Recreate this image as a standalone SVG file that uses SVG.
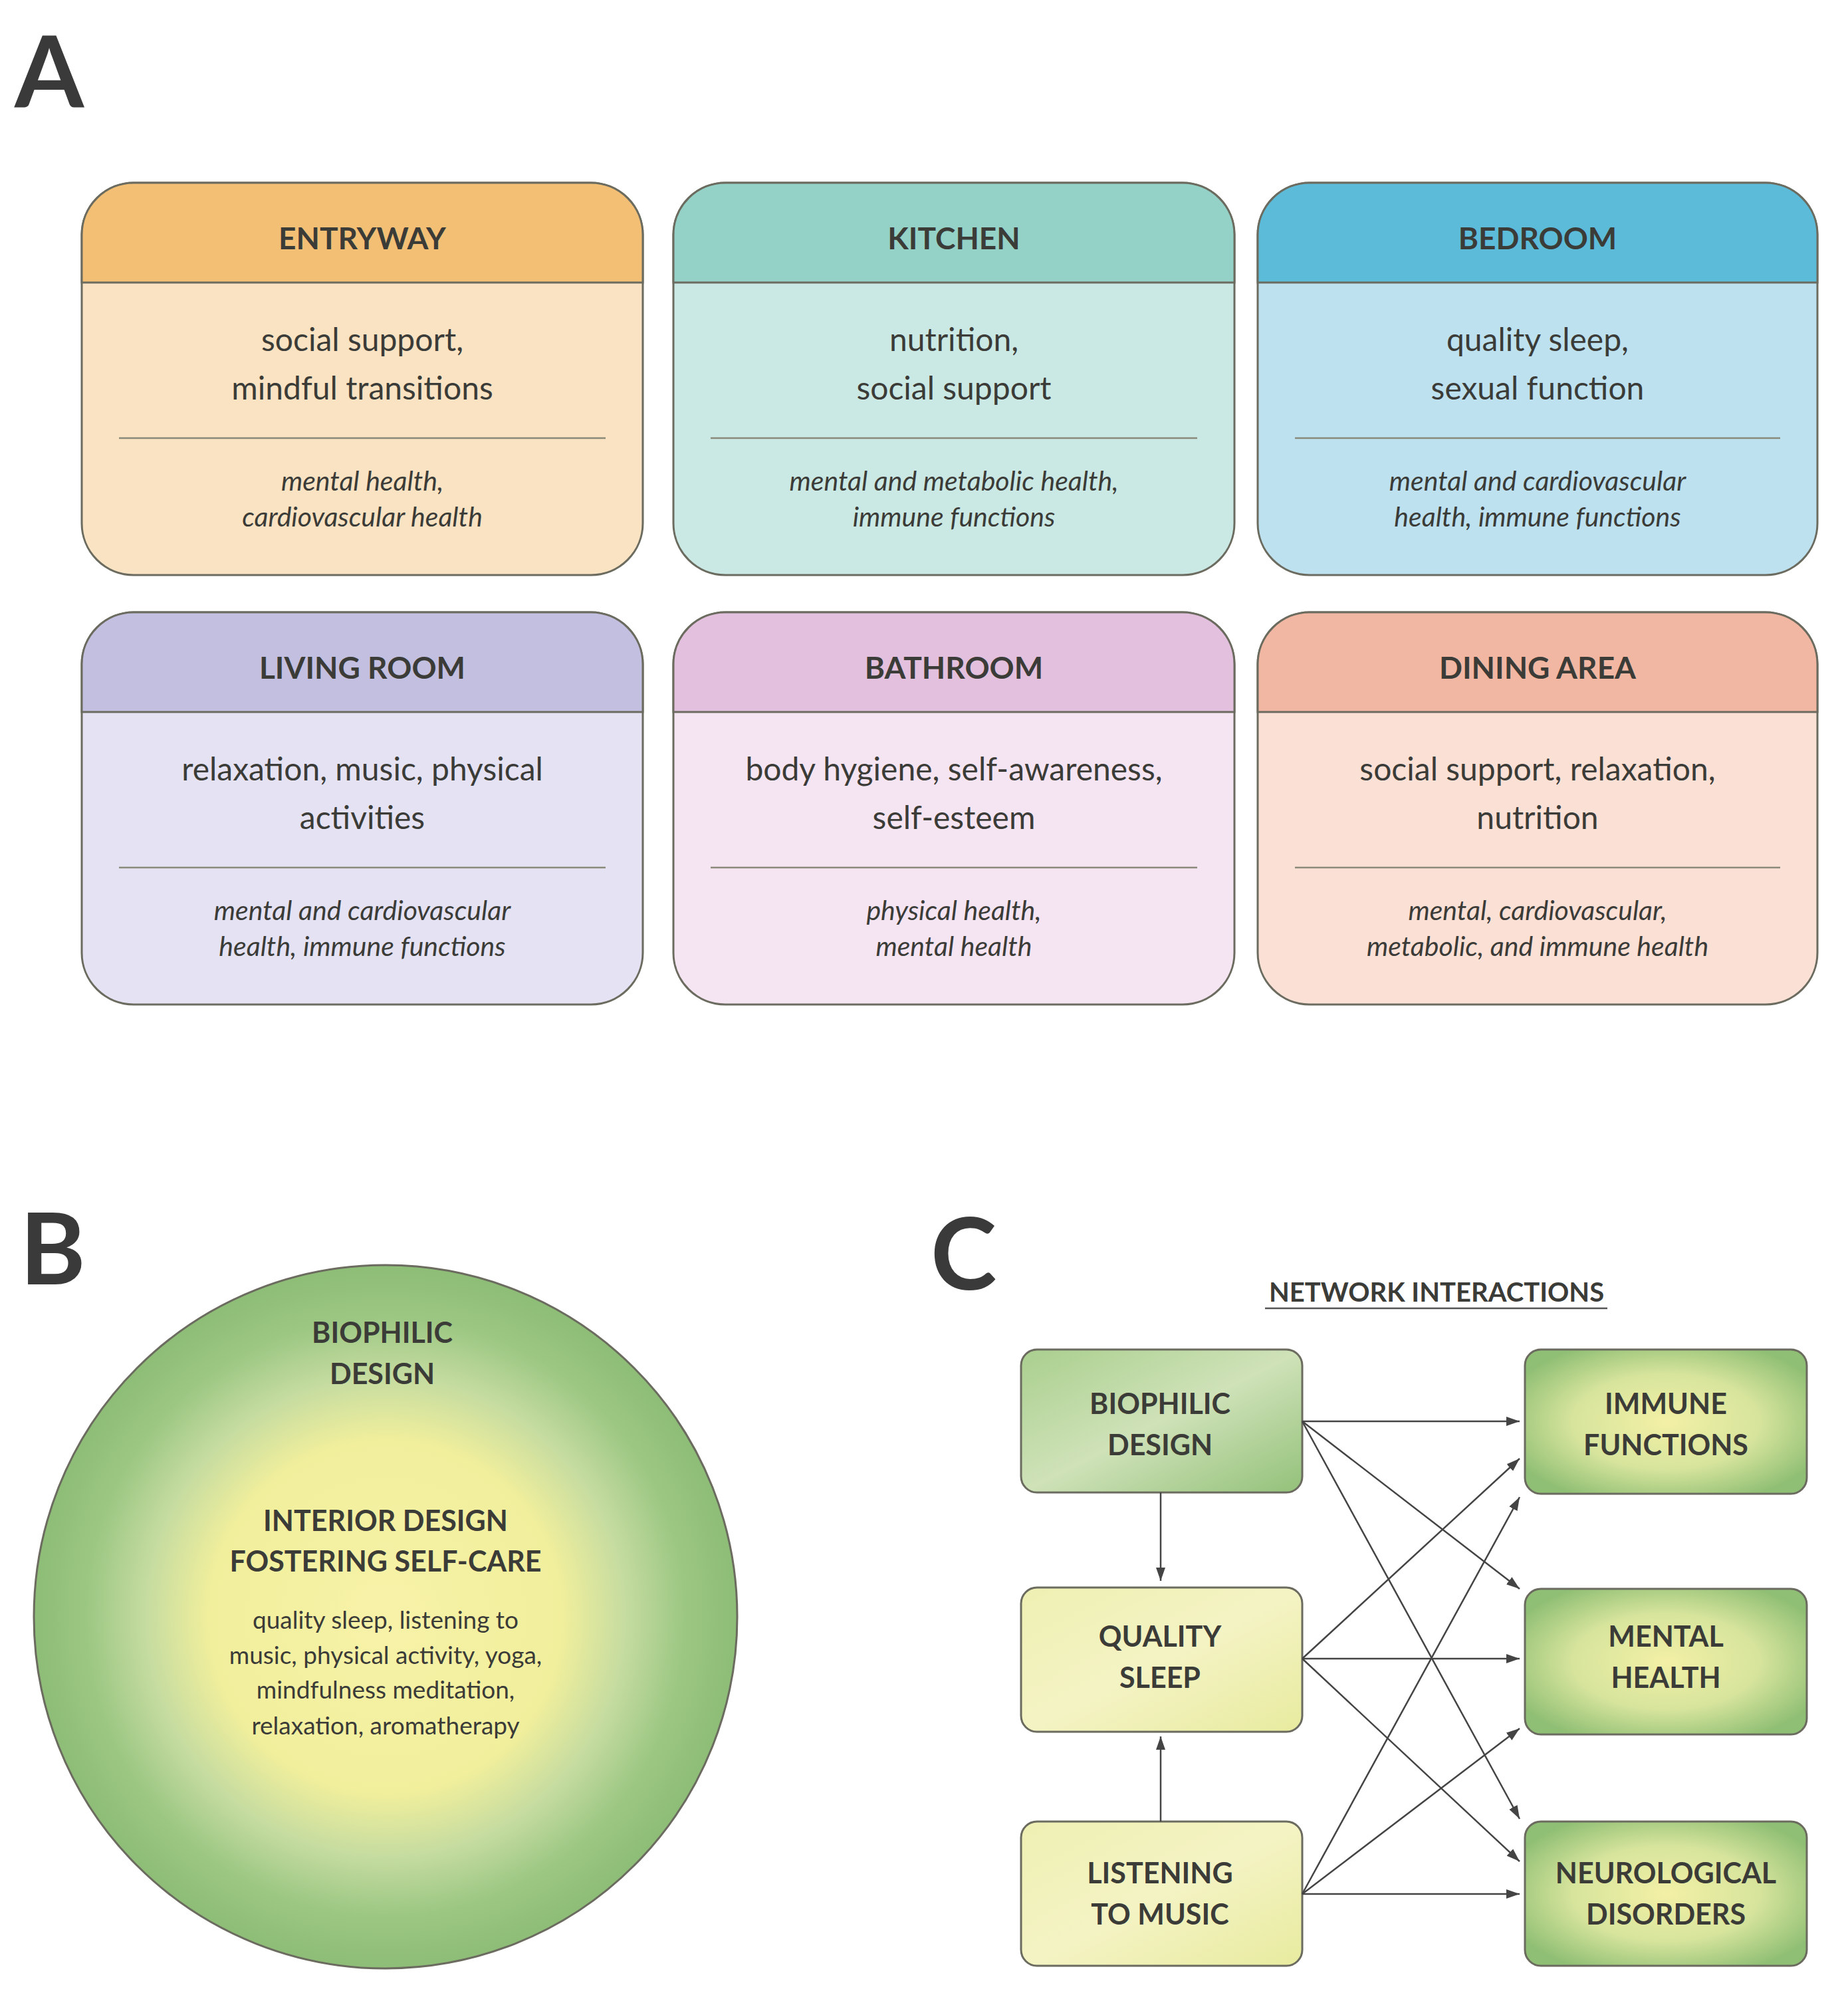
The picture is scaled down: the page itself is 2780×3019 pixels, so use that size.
<svg xmlns="http://www.w3.org/2000/svg" width="2780" height="3019" viewBox="0 0 2780 3019">
<defs>
<style>
text{font-family:Lato,"Open Sans","Liberation Sans",sans-serif;fill:#3b3b38;text-anchor:middle}
.big{font-size:150px;font-weight:bold;text-anchor:start;fill:#3a3a3a}
.hd{font-size:46px;font-weight:bold}
.bd{font-size:48px}
.it{font-size:41px;font-style:italic}
.c{font-size:43px;font-weight:bold}
.sm{font-size:37px}
.box{stroke:#6b6b5f;stroke-width:3}
.div{stroke:#8a8a7a;stroke-width:2.5}
.cn{stroke:#444;stroke-width:2.5;fill:none;marker-end:url(#ah)}
</style>
<marker id="ah" viewBox="0 0 10 10" refX="10" refY="5" markerWidth="7" markerHeight="7" orient="auto" markerUnits="userSpaceOnUse"><path d="M0,0 L10,5 L0,10 z" fill="#444" transform="scale(1)"/></marker>
<marker id="ah2" viewBox="0 0 10 10" refX="10" refY="5" markerWidth="20" markerHeight="20" orient="auto" markerUnits="userSpaceOnUse"><path d="M0,1.5 L10,5 L0,8.5 z" fill="#444"/></marker>
<radialGradient id="circ" cx="0.5" cy="0.5" r="0.5"><stop offset="0" stop-color="#f7f2a8"/><stop offset="0.5" stop-color="#f1ef9c"/><stop offset="0.68" stop-color="#c6dca0"/><stop offset="0.85" stop-color="#9cc783"/><stop offset="1" stop-color="#8dbd76"/></radialGradient>
<linearGradient id="gL" x1="0" y1="0" x2="1" y2="1"><stop offset="0" stop-color="#a9cf8e"/><stop offset="0.5" stop-color="#cfe2b8"/><stop offset="1" stop-color="#93c17a"/></linearGradient>
<linearGradient id="yL" x1="0" y1="0" x2="1" y2="1"><stop offset="0" stop-color="#eef0b2"/><stop offset="0.5" stop-color="#f4f3c4"/><stop offset="1" stop-color="#e7eb9e"/></linearGradient>
<radialGradient id="gR" cx="0.5" cy="0.5" r="0.6"><stop offset="0" stop-color="#f3f0a6"/><stop offset="0.55" stop-color="#d7e49c"/><stop offset="1" stop-color="#8fbf74"/></radialGradient>
</defs>

<text class="big" x="22" y="162">A</text>
<text class="big" x="30" y="1932">B</text>
<text class="big" x="1400" y="1940">C</text>

<g id="entryway"><rect class="box" x="123" y="275" width="844" height="590" rx="78" fill="#f9e3c2"/><path d="M123,425 V353 A78,78 0 0 1 201,275 H889 A78,78 0 0 1 967,353 V425 Z" fill="#f2bf75" class="box"/>
<text class="hd" x="545" y="375">ENTRYWAY</text><text class="bd" x="545" y="528">social support,</text><text class="bd" x="545" y="601">mindful transitions</text><line class="div" x1="179" y1="659" x2="911" y2="659"/><text class="it" x="545" y="738">mental health,</text><text class="it" x="545" y="792">cardiovascular health</text></g>

<g id="kitchen"><rect class="box" x="1013" y="275" width="844" height="590" rx="78" fill="#cbe9e4"/><path d="M1013,425 V353 A78,78 0 0 1 1091,275 H1779 A78,78 0 0 1 1857,353 V425 Z" fill="#94d1c7" class="box"/>
<text class="hd" x="1435" y="375">KITCHEN</text><text class="bd" x="1435" y="528">nutrition,</text><text class="bd" x="1435" y="601">social support</text><line class="div" x1="1069" y1="659" x2="1801" y2="659"/><text class="it" x="1435" y="738">mental and metabolic health,</text><text class="it" x="1435" y="792">immune functions</text></g>

<g id="bedroom"><rect class="box" x="1892" y="275" width="842" height="590" rx="78" fill="#bde1ef"/><path d="M1892,425 V353 A78,78 0 0 1 1970,275 H2656 A78,78 0 0 1 2734,353 V425 Z" fill="#5cbbd9" class="box"/>
<text class="hd" x="2313" y="375">BEDROOM</text><text class="bd" x="2313" y="528">quality sleep,</text><text class="bd" x="2313" y="601">sexual function</text><line class="div" x1="1948" y1="659" x2="2678" y2="659"/><text class="it" x="2313" y="738">mental and cardiovascular</text><text class="it" x="2313" y="792">health, immune functions</text></g>

<g id="living"><rect class="box" x="123" y="921" width="844" height="590" rx="78" fill="#e5e3f3"/><path d="M123,1071 V999 A78,78 0 0 1 201,921 H889 A78,78 0 0 1 967,999 V1071 Z" fill="#c3bfe0" class="box"/>
<text class="hd" x="545" y="1021">LIVING ROOM</text><text class="bd" x="545" y="1174">relaxation, music, physical</text><text class="bd" x="545" y="1247">activities</text><line class="div" x1="179" y1="1305" x2="911" y2="1305"/><text class="it" x="545" y="1384">mental and cardiovascular</text><text class="it" x="545" y="1438">health, immune functions</text></g>

<g id="bathroom"><rect class="box" x="1013" y="921" width="844" height="590" rx="78" fill="#f5e5f2"/><path d="M1013,1071 V999 A78,78 0 0 1 1091,921 H1779 A78,78 0 0 1 1857,999 V1071 Z" fill="#e3c0de" class="box"/>
<text class="hd" x="1435" y="1021">BATHROOM</text><text class="bd" x="1435" y="1174">body hygiene, self-awareness,</text><text class="bd" x="1435" y="1247">self-esteem</text><line class="div" x1="1069" y1="1305" x2="1801" y2="1305"/><text class="it" x="1435" y="1384">physical health,</text><text class="it" x="1435" y="1438">mental health</text></g>

<g id="dining"><rect class="box" x="1892" y="921" width="842" height="590" rx="78" fill="#fbe0d6"/><path d="M1892,1071 V999 A78,78 0 0 1 1970,921 H2656 A78,78 0 0 1 2734,999 V1071 Z" fill="#f2b7a2" class="box"/>
<text class="hd" x="2313" y="1021">DINING AREA</text><text class="bd" x="2313" y="1174">social support, relaxation,</text><text class="bd" x="2313" y="1247">nutrition</text><line class="div" x1="1948" y1="1305" x2="2678" y2="1305"/><text class="it" x="2313" y="1384">mental, cardiovascular,</text><text class="it" x="2313" y="1438">metabolic, and immune health</text></g>

<g id="circle"><circle cx="580" cy="2432" r="529" fill="url(#circ)" stroke="#6b6b5f" stroke-width="3"/>
<text class="c" x="575" y="2020">BIOPHILIC</text><text class="c" x="575" y="2082">DESIGN</text>
<text class="c" x="580" y="2303">INTERIOR DESIGN</text><text class="c" x="580" y="2364">FOSTERING SELF-CARE</text>
<text class="sm" x="580" y="2450">quality sleep, listening to</text><text class="sm" x="580" y="2503">music, physical activity, yoga,</text><text class="sm" x="580" y="2555">mindfulness meditation,</text><text class="sm" x="580" y="2609">relaxation, aromatherapy</text></g>

<g id="title"><text class="hd" x="2161" y="1958" style="font-size:40px">NETWORK INTERACTIONS</text><line x1="1903" y1="1968" x2="2418" y2="1968" stroke="#555" stroke-width="2.5"/></g>

<g id="biophilic"><rect class="box" x="1536" y="2030" width="423" height="215" rx="24" fill="url(#gL)"/><text class="c" x="1745" y="2127">BIOPHILIC</text><text class="c" x="1745" y="2189">DESIGN</text></g>
<g id="sleep"><rect class="box" x="1536" y="2388" width="423" height="217" rx="24" fill="url(#yL)"/><text class="c" x="1745" y="2477">QUALITY</text><text class="c" x="1745" y="2539">SLEEP</text></g>
<g id="music"><rect class="box" x="1536" y="2740" width="423" height="217" rx="24" fill="url(#yL)"/><text class="c" x="1745" y="2833">LISTENING</text><text class="c" x="1745" y="2895">TO MUSIC</text></g>
<g id="immune"><rect class="box" x="2294" y="2030" width="424" height="217" rx="24" fill="url(#gR)"/><text class="c" x="2506" y="2127">IMMUNE</text><text class="c" x="2506" y="2189">FUNCTIONS</text></g>
<g id="mental"><rect class="box" x="2294" y="2390" width="424" height="219" rx="24" fill="url(#gR)"/><text class="c" x="2506" y="2477">MENTAL</text><text class="c" x="2506" y="2539">HEALTH</text></g>
<g id="neuro"><rect class="box" x="2294" y="2740" width="424" height="217" rx="24" fill="url(#gR)"/><text class="c" x="2506" y="2833">NEUROLOGICAL</text><text class="c" x="2506" y="2895">DISORDERS</text></g>

<g id="connectors" stroke="#444" stroke-width="2.5" fill="none">
<path d="M1959,2138 L2286,2138" marker-end="url(#ah2)"/>
<path d="M1959,2138 L2286,2390" marker-end="url(#ah2)"/>
<path d="M1959,2138 L2286,2736" marker-end="url(#ah2)"/>
<path d="M1959,2495 L2286,2194" marker-end="url(#ah2)"/>
<path d="M1959,2495 L2286,2495" marker-end="url(#ah2)"/>
<path d="M1959,2495 L2286,2800" marker-end="url(#ah2)"/>
<path d="M1959,2849 L2286,2252" marker-end="url(#ah2)"/>
<path d="M1959,2849 L2286,2600" marker-end="url(#ah2)"/>
<path d="M1959,2849 L2286,2849" marker-end="url(#ah2)"/>
<path d="M1746,2245 L1746,2378" marker-end="url(#ah2)"/>
<path d="M1746,2740 L1746,2612" marker-end="url(#ah2)"/>
</g>
</svg>
